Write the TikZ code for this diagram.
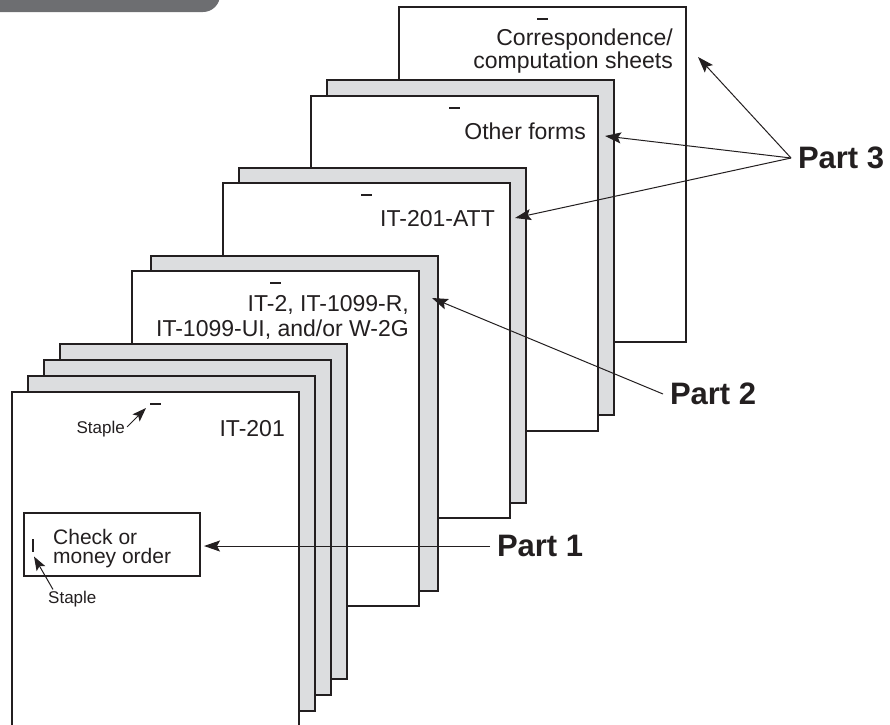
\documentclass[tikz,border=0pt]{standalone}
\usepackage{fontspec}
\setmainfont{Liberation Sans}
\usetikzlibrary{arrows.meta,calc,positioning}
\definecolor{ink}{HTML}{231F20}
\definecolor{sheetgray}{HTML}{DCDDDF}
\definecolor{bannergray}{HTML}{6D6E71}
\tikzset{>={Stealth[length=16pt,width=11pt,inset=3pt]},every node/.style={font=\fontsize{23}{23}\selectfont,text=ink},
sheet/.style={draw=ink,line width=1.1pt,fill=white,minimum width=287pt,minimum height=335pt,anchor=north west,inner sep=0pt,outer sep=0pt},
backsheet/.style={sheet,fill=sheetgray},formname/.style={anchor=base east,align=right,inner sep=0pt},
part/.style={font=\fontsize{31}{31}\selectfont\bfseries,anchor=west,inner sep=0pt,outer sep=7pt},
pointer/.style={draw=ink,line width=1pt,->},smallpointer/.style={pointer,>={Stealth[length=14pt,width=10pt,inset=3pt]}},
stapletag/.style={font=\fontsize{17}{17}\selectfont,inner sep=0pt},staplemark/.style={draw=ink,line width=1.2pt}}

\begin{document}
\begin{tikzpicture}[x=1pt,y=-1pt]
\useasboundingbox (0,0) rectangle (890,724);
\fill[bannergray,rounded corners=17pt] (-20,-20) -- (220,-20) -- (220,12) -- (-20,12) -- cycle;
% sheets, back to front
\node[sheet] (corr) at (399,7) {};
\node[backsheet] (otherbk) at (327,80) {};\node[sheet] (other) at (311,96) {};
\node[backsheet] (attbk) at (239,168) {};\node[sheet] (att) at (223,183) {};
\node[backsheet] (itbk) at (151,256) {};\node[sheet] (itforms) at (132,271) {};
\foreach \k in {3,2,1} \node[backsheet] (bk\k) at ({12+16*\k},{392-16*\k}) {};
\node[sheet] (main) at (12,392) {};
\foreach \s in {corr,other,att,itforms,main} \draw[staplemark] ($(\s.north west)+(138,12)$) -- ++(11,0);
% form names (base = last line)
\node[formname] (corrtxt) at ($(corr.north east)+(-13,61)$) {Correspondence/\\computation sheets};
\node[formname] (othertxt) at ($(other.north east)+(-12,43)$) {Other forms};
\node[formname] (atttxt) at ($(att.north east)+(-15,43)$) {IT-201-ATT};
\node[formname] (ittxt) at ($(itforms.north east)+(-10,65)$) {IT-2, IT-1099-R,\\[2pt]IT-1099-UI, and/or W-2G};
\node[formname] (maintxt) at ($(main.north east)+(-14,44)$) {IT-201};
% check and staples
\node[draw=ink,line width=1.1pt,minimum width=176pt,minimum height=63pt,anchor=north west,inner sep=0pt,outer sep=0pt] (chk) at (24,513) {};
\node[anchor=base west,align=left,inner sep=0pt,font=\fontsize{21}{19}\selectfont] (chktxt) at (53,563) {Check or\\money order};
\draw[staplemark] ($(chk.north west)+(9,26)$) -- ++(0,13);
\node[stapletag,anchor=east] (stapleA) at (125,429) {Staple};
\coordinate (stapleAtip) at ($(main.north west)+(134,16)$);
\draw[smallpointer,shorten <=3pt] (stapleA.east) -- (stapleAtip);
\node[stapletag,anchor=base west] (stapleB) at (48,603) {Staple};
\coordinate (stapleBtip) at ($(chk.west)+(10,12)$);
\draw[smallpointer] ($(stapleB.north west)+(5,-1)$) -- (stapleBtip);
% parts
\node[part] (part1) at (490,546) {Part 1};
\node[part] (part2) at (663,394) {Part 2};
\node[part] (part3) at (791,158) {Part 3};
\draw[pointer,shorten >=4pt] (part1.west) -- (part1.west -| chk.east);
\coordinate (tip2) at ($(itforms.north east)+(13,27)$);
\draw[pointer] (part2.west) -- (tip2);
\coordinate (tip3a) at ($(corr.north east)+(12,50)$);
\coordinate (tip3b) at ($(other.north east)+(7,40)$);
\coordinate (tip3c) at ($(att.north east)+(5,35)$);
\foreach \t in {tip3a,tip3b,tip3c} \draw[pointer] (part3.west) -- (\t);
\end{tikzpicture}
\end{document}
